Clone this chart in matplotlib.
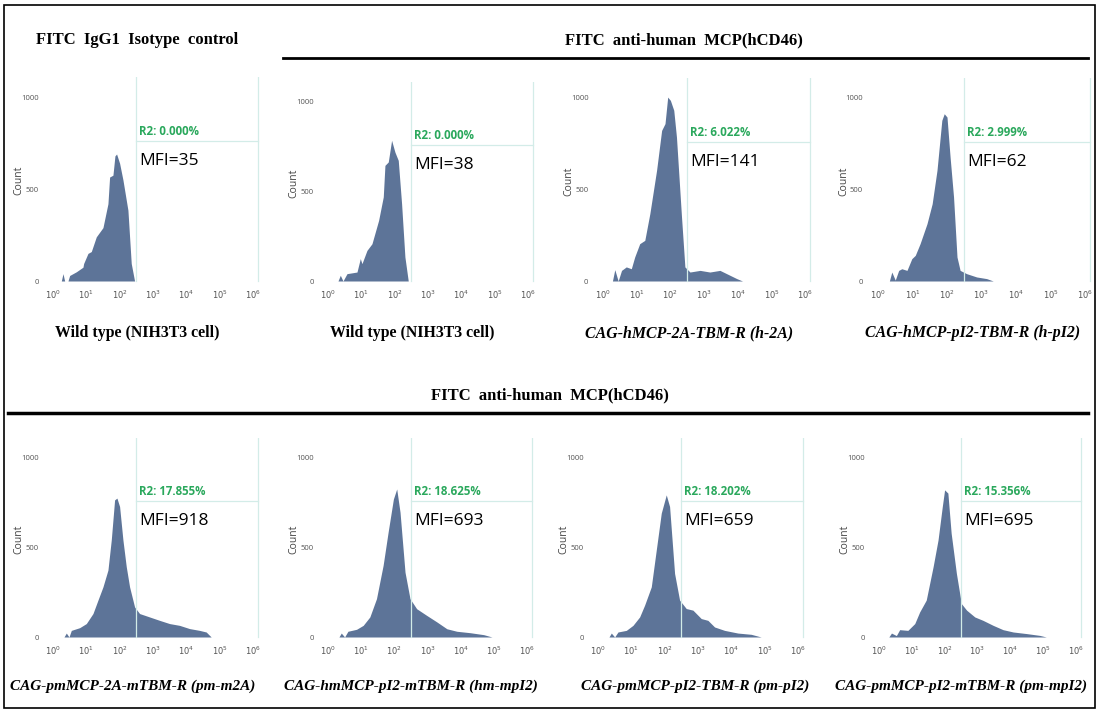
import matplotlib
matplotlib.use("Agg")
import matplotlib.pyplot as plt
from matplotlib.patches import Rectangle
from matplotlib.lines import Line2D

# ==========================
# DATA (log10 fluorescence, count)
# ==========================
iso_wt_x = [0.25, 0.3, 0.35, 0.45, 0.5, 0.7, 0.9, 0.92, 1.05, 1.15, 1.3, 1.5, 1.65, 1.7, 1.8, 1.86, 1.91, 2.0, 2.1, 2.25, 2.35, 2.45]
iso_wt_y = [0, 40, 0, 0, 30, 50, 75, 95, 150, 160, 240, 290, 420, 565, 575, 680, 690, 640, 550, 385, 95, 0]

wt_x = [0.3, 0.37, 0.45, 0.57, 0.87, 0.97, 1.02, 1.17, 1.32, 1.52, 1.66, 1.71, 1.81, 1.91, 2.01, 2.11, 2.21, 2.31, 2.41]
wt_y = [0, 32, 0, 41, 50, 125, 97, 171, 208, 339, 470, 646, 665, 786, 720, 674, 432, 134, 0]

h2a_x = [0.28, 0.35, 0.45, 0.55, 0.69, 0.84, 0.94, 1.09, 1.24, 1.39, 1.59, 1.74, 1.84, 1.92, 2.0, 2.1, 2.18, 2.33, 2.43, 2.58, 2.88, 3.17, 3.47, 3.77, 3.97, 4.14]
h2a_y = [0, 62, 0, 58, 77, 67, 131, 204, 222, 368, 605, 823, 860, 1005, 987, 933, 787, 350, 77, 49, 58, 49, 58, 31, 13, 0]

hpi2_x = [0.33, 0.4, 0.5, 0.6, 0.69, 0.84, 0.98, 1.08, 1.22, 1.42, 1.57, 1.71, 1.85, 1.92, 2.0, 2.09, 2.19, 2.29, 2.38, 2.57, 2.86, 3.15, 3.34]
hpi2_y = [0, 49, 5, 58, 67, 58, 122, 140, 204, 313, 422, 605, 878, 914, 896, 677, 459, 131, 58, 40, 22, 13, 0]

pmm2a_x = [0.33, 0.4, 0.48, 0.55, 0.8, 1.0, 1.2, 1.35, 1.5, 1.65, 1.75, 1.85, 1.92, 2.0, 2.1, 2.2, 2.3, 2.45, 2.6, 2.9, 3.2, 3.5, 3.8, 4.1, 4.4, 4.6, 4.75]
pmm2a_y = [0, 22, 0, 37, 52, 75, 131, 206, 280, 374, 542, 766, 776, 729, 542, 393, 280, 168, 131, 112, 93, 75, 65, 47, 37, 28, 0]

hmmpi2_x = [0.33, 0.4, 0.5, 0.6, 0.86, 1.06, 1.26, 1.46, 1.66, 1.81, 1.97, 2.07, 2.17, 2.32, 2.47, 2.67, 2.97, 3.28, 3.58, 3.88, 4.28, 4.69, 4.94]
hmmpi2_y = [0, 22, 0, 32, 43, 65, 112, 214, 400, 585, 771, 827, 697, 362, 214, 158, 121, 84, 46, 32, 24, 13, 0]

pmpi2_x = [0.33, 0.4, 0.5, 0.6, 0.85, 1.05, 1.25, 1.4, 1.6, 1.75, 1.9, 2.05, 2.15, 2.3, 2.45, 2.65, 2.85, 3.1, 3.3, 3.5, 3.8, 4.2, 4.6, 4.9]
pmpi2_y = [0, 22, 0, 28, 37, 65, 112, 178, 280, 486, 692, 794, 729, 355, 206, 159, 150, 103, 93, 56, 37, 22, 15, 0]

pmmpi2_x = [0.3, 0.38, 0.53, 0.63, 0.88, 1.09, 1.24, 1.44, 1.65, 1.8, 1.93, 2.0, 2.1, 2.2, 2.36, 2.51, 2.67, 2.92, 3.17, 3.48, 3.78, 4.09, 4.5, 4.9, 5.1]
pmmpi2_y = [0, 22, 8, 41, 37, 75, 140, 206, 393, 542, 729, 822, 804, 580, 355, 187, 150, 112, 93, 65, 41, 28, 19, 9, 0]

top_series = [(iso_wt_x, iso_wt_y), (wt_x, wt_y), (h2a_x, h2a_y), (hpi2_x, hpi2_y)]
bottom_series = [(pmm2a_x, pmm2a_y), (hmmpi2_x, hmmpi2_y), (pmpi2_x, pmpi2_y), (pmmpi2_x, pmmpi2_y)]

top_r2 = ["0.000%", "0.000%", "6.022%", "2.999%"]
bottom_r2 = ["17.855%", "18.625%", "18.202%", "15.356%"]
top_mfi = [35, 38, 141, 62]
bottom_mfi = [918, 693, 659, 695]

top_labels = ["Wild type (NIH3T3 cell)", "Wild type (NIH3T3 cell)",
              "CAG-hMCP-2A-TBM-R (h-2A)", "CAG-hMCP-pI2-TBM-R (h-pI2)"]
bottom_labels = ["CAG-pmMCP-2A-mTBM-R (pm-m2A)", "CAG-hmMCP-pI2-mTBM-R (hm-mpI2)",
                 "CAG-pmMCP-pI2-TBM-R (pm-pI2)", "CAG-pmMCP-pI2-mTBM-R (pm-mpI2)"]

decades = list(range(7))
y_ticks = [0, 500, 1000]
gate_lo, gate_hi, gate_level = 2.5, 6.15, 760

# ==========================
# FIGURE
# ==========================
W, H = 1100, 714
fig = plt.figure(figsize=(W / 100, H / 100), dpi=100)
fill_color = "#5d7498"
gate_color = "#d3ece8"


def fx(px):
    return px / W


def fy(py):
    return 1 - py / H


def panel(series, x0, dw, y0, y1000, r2, mfi):
    xmin, xmax, ymin, ymax = -0.35, 6.35, -20, 1110
    s = (y0 - y1000) / 1000
    left = x0 + xmin * dw
    right = x0 + xmax * dw
    top = y0 - ymax * s
    bottom = y0 - ymin * s
    ax = fig.add_axes([fx(left), fy(bottom), (right - left) / W, (bottom - top) / H])
    x, y = series
    ax.fill_between(x, y, 0, color=fill_color, lw=0)
    ax.plot([gate_lo, gate_lo], [0, ymax], color=gate_color, lw=0.9)
    ax.plot([gate_hi, gate_hi], [0, ymax], color=gate_color, lw=0.9)
    ax.plot([gate_lo, gate_hi], [gate_level, gate_level], color=gate_color, lw=0.9)
    ax.text(gate_lo + 0.08, gate_level + 15, "R2: " + r2, color="#2aa85c",
            fontsize=8.3, fontweight="bold", family="Open Sans", va="bottom")
    ax.text(gate_lo + 0.1, 650, "MFI=%d" % mfi, color="black",
            fontsize=12.5, family="Open Sans", va="center")
    ax.set_xlim(xmin, xmax)
    ax.set_ylim(ymin, ymax)
    ax.set_xticks(decades)
    ax.set_xticklabels([r"$10^{%d}$" % d for d in decades])
    ax.set_yticks(y_ticks)
    ax.set_yticklabels([str(v) for v in y_ticks])
    ax.tick_params(axis="x", length=0, labelsize=6, labelcolor="#555555", pad=3)
    ax.tick_params(axis="y", length=0, labelsize=5.5, labelcolor="#555555", pad=2)
    for lab in ax.get_yticklabels():
        lab.set_family("Open Sans")
    ax.set_ylabel("Count", fontsize=7.5, color="#444444", family="Open Sans")
    ax.yaxis.set_label_coords(-17 / (right - left), 0.5)
    for sp in ax.spines.values():
        sp.set_visible(False)
    ax.patch.set_alpha(0)
    return ax


top_x0 = [53, 328, 603, 878]
top_dw = [33.3, 33.3, 33.7, 34.5]
top_y1000 = [97, 102, 98, 98]
for i in range(4):
    panel(top_series[i], top_x0[i], top_dw[i], 281, top_y1000[i], top_r2[i], top_mfi[i])

bot_x0 = [53, 328, 598, 879]
bot_dw = [33.3, 33.2, 33.3, 32.8]
for i in range(4):
    panel(bottom_series[i], bot_x0[i], bot_dw[i], 637, 458, bottom_r2[i], bottom_mfi[i])

# captions
serif = "Liberation Serif"
top_cx = [137, 412, 689, 973]
for i in range(4):
    style = "normal" if i < 2 else "italic"
    fig.text(fx(top_cx[i]), fy(333), top_labels[i], ha="center", va="center",
             family=serif, fontweight="bold", style=style, fontsize=11.4)
bot_cx = [133, 411, 695, 961]
for i in range(4):
    fig.text(fx(bot_cx[i]), fy(686), bottom_labels[i], ha="center", va="center",
             family=serif, fontweight="bold", style="italic", fontsize=11)

# headers
fig.text(fx(36), fy(40), "FITC  IgG1  Isotype  control", ha="left", va="center",
         family=serif, fontweight="bold", fontsize=12)
fig.text(fx(684), fy(40), "FITC  anti-human  MCP(hCD46)", ha="center", va="center",
         family=serif, fontweight="bold", fontsize=12)
fig.text(fx(550), fy(395), "FITC  anti-human  MCP(hCD46)", ha="center", va="center",
         family=serif, fontweight="bold", fontsize=12)
fig.add_artist(Line2D([fx(283), fx(1088)], [fy(58), fy(58)], color="black", lw=2))
fig.add_artist(Line2D([fx(8), fx(1088)], [fy(413), fy(413)], color="black", lw=2.5))

# outer frame
fig.add_artist(Rectangle((fx(4), fy(708)), fx(1091), (708 - 5) / H,
                         fill=False, edgecolor="black", lw=1.2))

fig.savefig("out.png", dpi=100)
